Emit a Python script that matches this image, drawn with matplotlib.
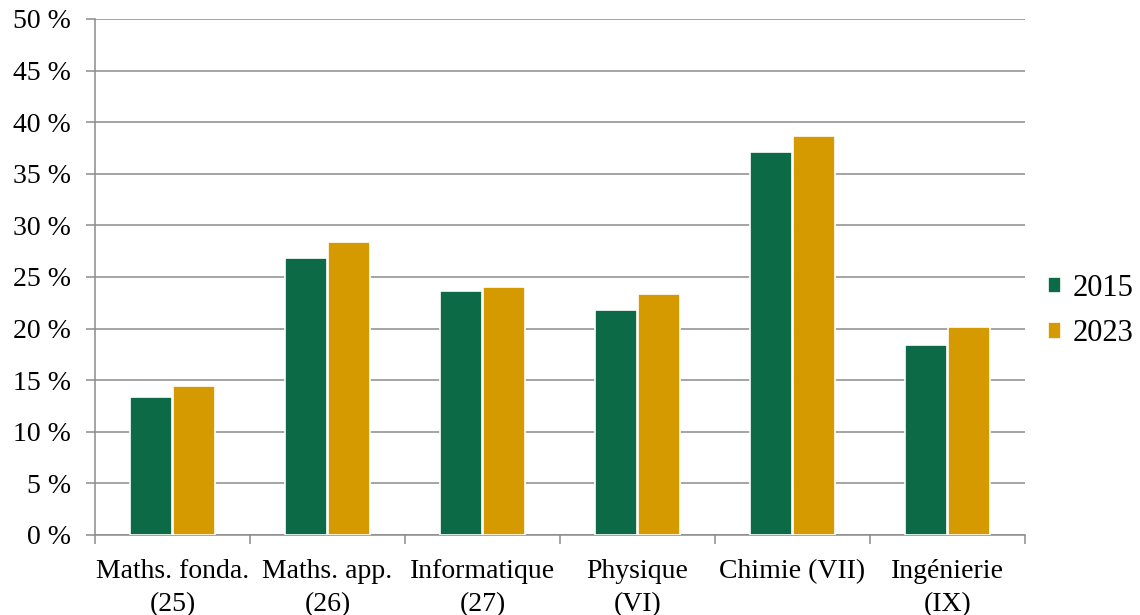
import numpy as np
import matplotlib
matplotlib.use('Agg')
import matplotlib.pyplot as plt
from matplotlib.ticker import FuncFormatter

# données
categories = ['Maths. fonda.\n(25)', 'Maths. app.\n(26)', 'Informatique\n(27)',
              'Physique\n(VI)', 'Chimie (VII)', 'Ingénierie\n(IX)']
v2015 = [13.4, 26.8, 23.6, 21.8, 37.1, 18.4]
v2023 = [14.4, 28.4, 24.0, 23.4, 38.7, 20.2]
years = ['2015', '2023']
colors = ['#0C6B46', '#D59A00']
grey = '#8C8C8C'

plt.rcParams['font.family'] = ['Liberation Serif', 'DejaVu Serif']

fig = plt.figure(figsize=(11.4, 6.15), dpi=100)
ax = fig.add_axes([95 / 1140, 1 - 535 / 615, 930 / 1140, 516 / 615])

x = np.arange(len(categories))
w = 0.27
ax.bar(x - 0.14, v2015, w, color=colors[0], edgecolor='white', linewidth=1.2,
       label=years[0], zorder=3)
ax.bar(x + 0.14, v2023, w, color=colors[1], edgecolor='white', linewidth=1.2,
       label=years[1], zorder=3)

ax.set_xlim(-0.5, len(categories) - 0.5)
ax.set_ylim(0, 50)
ax.set_yticks(np.arange(0, 51, 5))
ax.yaxis.set_major_formatter(FuncFormatter(lambda v, p: f'{int(v)} %'))
ax.grid(axis='y', color=grey, linewidth=1.1, zorder=0)

ax.set_xticks(x)
ax.set_xticklabels(categories)
ax.set_xticks(np.arange(-0.5, len(categories), 1), minor=True)
ax.tick_params(axis='x', which='major', length=0, pad=17, labelsize=20)
ax.tick_params(axis='x', which='minor', length=6.5, width=1.1, color=grey)
ax.tick_params(axis='y', length=6.5, width=1.1, color=grey, pad=11, labelsize=20)
for lab in ax.get_xticklabels():
    lab.set_linespacing(1.45)

for s in ['top', 'right']:
    ax.spines[s].set_visible(False)
for s in ['left', 'bottom']:
    ax.spines[s].set_color(grey)
    ax.spines[s].set_linewidth(1.1)

ax.legend(loc='center left', bbox_to_anchor=(1.008, 0.434), frameon=False,
          fontsize=22, handlelength=0.45, handleheight=0.45, handletextpad=0.35,
          labelspacing=0.55, borderpad=0)

fig.savefig('out.png', dpi=100)
